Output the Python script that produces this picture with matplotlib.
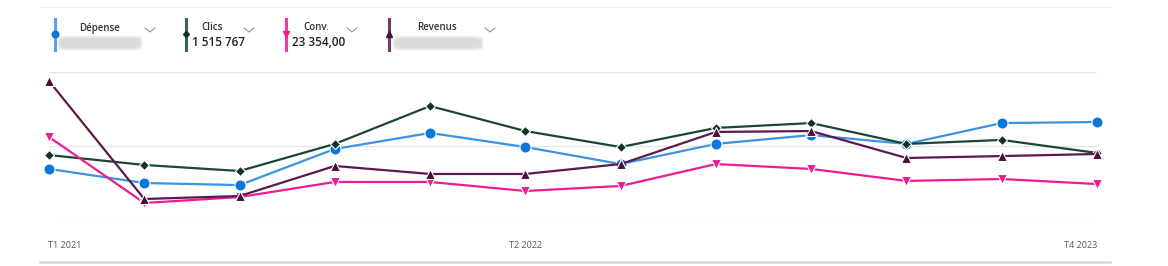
import matplotlib
matplotlib.use("Agg")
import matplotlib.pyplot as plt
from matplotlib.patches import FancyBboxPatch
from matplotlib.lines import Line2D

W, H = 1168, 266

# quarters T1 2021 .. T4 2023 (index scale, gridlines at 0 / 50 / 100)
quarters = ["T1 2021", "T2 2021", "T3 2021", "T4 2021",
            "T1 2022", "T2 2022", "T3 2022", "T4 2022",
            "T1 2023", "T2 2023", "T3 2023", "T4 2023"]
depense = [34.5, 25.0, 23.6, 48.0, 58.8, 49.3, 37.8, 51.4, 57.4, 51.4, 65.5, 66.2]
clics = [43.9, 37.2, 33.1, 51.4, 77.0, 60.1, 49.3, 62.2, 65.5, 51.4, 54.1, 45.3]
conv = [56.1, 11.5, 15.5, 25.7, 25.7, 19.6, 23.0, 37.8, 34.5, 26.4, 27.7, 24.3]
revenus = [93.9, 14.2, 16.2, 36.5, 31.1, 31.1, 37.8, 59.5, 60.1, 41.9, 43.2, 44.6]

shown_ticks = [0, 5, 11]

headers = ["Dépense", "Clics", "Conv.", "Revenus"]
header_values = [None, "1 515 767", "23 354,00", None]

BLUE = "#3b93e3"
GREEN = "#1c4634"
PINK = "#ec1c93"
PURPLE = "#5b1a4c"

plt.rcParams['font.family'] = ['Open Sans', 'DejaVu Sans']

fig = plt.figure(figsize=(W / 100, H / 100), dpi=100)


def fx(px):
    return px / W


def fy(py):
    return 1 - py / H


ax = fig.add_axes([fx(49), fy(220), fx(1097) - fx(49), fy(72) - fy(220)])
x = list(range(len(quarters)))

series = [
    (depense, BLUE, "o", 8, "#0a78d8"),
    (clics, GREEN, "D", 5, "#0f3322"),
    (conv, PINK, "v", 6.5, PINK),
    (revenus, PURPLE, "^", 6.5, "#4a0f3c"),
]
for vals, col, mk, ms, mcol in series:
    ax.plot(x, vals, color=col, lw=1.6, marker=mk, ms=ms, mfc=mcol,
            mec="white", mew=0.8, clip_on=False, zorder=3)

ax.set_xlim(0, 11)
ax.set_ylim(0, 100)
ax.set_yticks([0, 50, 100])
ax.set_yticklabels([])
ax.grid(axis="y", color="#e6e6e6", lw=1)
ax.tick_params(length=0)
for s in ax.spines.values():
    s.set_visible(False)
ax.set_xticks([])

# x labels
for i in shown_ticks:
    ha = "left" if i == 0 else ("right" if i == 11 else "center")
    xpos = i + (-0.01 if i == 0 else 0)
    ax.text(xpos, -0.17, quarters[i], transform=ax.get_xaxis_transform(),
            ha=ha, va="center", fontsize=6.5, color="#555555")

# frame lines top / bottom
fig.add_artist(Line2D([fx(40), fx(1110)], [fy(7), fy(7)], color="#f0f0f0", lw=1))
fig.add_artist(Line2D([fx(40), fx(1110)], [fy(262), fy(262)], color="#dcdcdc", lw=2))

# legend header cards
bar_x = [55, 186, 286, 389]
title_x = [100, 212, 316, 437]
chev_x = [150, 249, 352, 490]
blur_span = [(60, 140), None, None, (395, 481)]
for k in range(4):
    vals, col, mk, ms, mcol = series[k]
    fig.add_artist(Line2D([fx(bar_x[k]), fx(bar_x[k])], [fy(19), fy(50)],
                          color=col, lw=2.2, alpha=0.85))
    fig.add_artist(Line2D([fx(bar_x[k])], [fy(34)], marker=mk, ms=ms * 0.6,
                          color=mcol, mec=mcol, lw=0))
    fig.text(fx(title_x[k]), fy(28), headers[k], ha="center", va="center",
             fontsize=7, color="#333333", fontweight="semibold")
    # chevron
    cx = chev_x[k]
    fig.add_artist(Line2D([fx(cx - 5), fx(cx), fx(cx + 5)],
                          [fy(28), fy(32), fy(28)], color="#888888", lw=0.7))
    if header_values[k] is not None:
        fig.text(fx(bar_x[k] + 6), fy(43), header_values[k], ha="left",
                 va="center", fontsize=8.5, color="#222222", fontweight="semibold")
    else:
        x0, x1 = blur_span[k]
        for pad, a in [(3, 0.12), (2, 0.18), (1, 0.25), (0, 0.35)]:
            fig.add_artist(FancyBboxPatch(
                (fx(x0 - pad), fy(48 + pad)), fx(x1 - x0 + 2 * pad),
                (10 + 2 * pad) / H, boxstyle="round,pad=0,rounding_size=0.01",
                fc="#c8c8c8", ec="none", alpha=a))

fig.savefig("out.png", dpi=100)
